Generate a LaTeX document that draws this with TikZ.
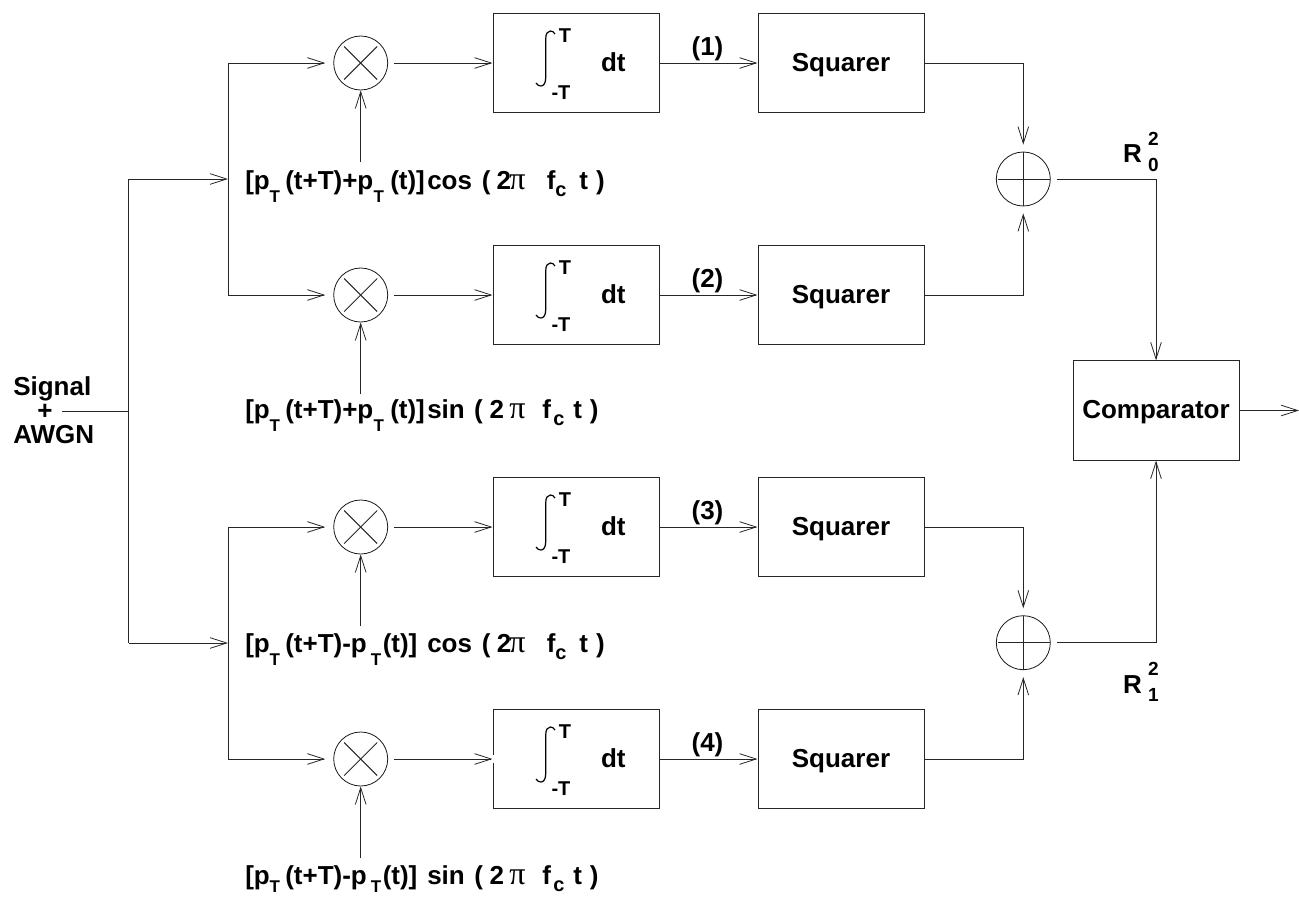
\documentclass[tikz,border=0pt]{standalone}
\usepackage{fontspec}
\setmainfont{Liberation Sans}
\newfontfamily\pifont{Liberation Serif}
\usetikzlibrary{arrows.meta}
\newdimen\px \px=0.75pt
\newcommand{\fs}[1]{\fontsize{#1\px}{#1\px}\selectfont}
\newcommand{\at}[2]{\makebox[0pt][l]{\hspace*{#1\px}#2}}
\newcommand{\sbdrop}{13.5}
\newcommand{\sbT}[1]{\at{#1}{\raisebox{-\sbdrop\px}{\fs{17}T}}}
\newcommand{\sbc}[1]{\at{#1}{\raisebox{-7.5\px}{\fs{20}c}}}
\newcommand{\mypi}{{\fs{32}\mdseries\pifont π}}
\newcommand{\cosTail}{\at{182}{cos}\at{236.5}{(}\at{251.5}{2}\at{264}{\mypi}\at{301.5}{f}\sbc{310}\at{334}{t}\at{351}{)}}
\newcommand{\sinTail}{\at{182}{sin}\at{229}{(}\at{244.3}{2}\at{264}{\mypi}\at{297}{f}\sbc{308}\at{328}{t}\at{344.5}{)}}
\newcommand{\headPlus}{\at{0}{[p}\sbT{24.3}\at{40}{(t+T)+p}\sbT{128.3}\at{145}{(t)]}}
\newcommand{\headMinus}{\at{0}{[p}\sbT{24.3}\at{40}{(t+T)-p}\sbT{125.7}\at{137.5}{(t)]}}
\tikzset{
  x=0.75pt,y=-0.75pt,
  wire/.style={line width=0.75pt,draw=black!85},
  arr/.style={wire,-{Straight Barb[length=12.5pt,width=8pt,line width=0.6pt]}},
  blockbox/.style={draw=black!85,line width=0.75pt,minimum width=166\px,minimum height=99.5\px,inner sep=0pt,
    font=\fs{26}\bfseries,text height=18\px,text depth=2\px},
  sumcirc/.style={circle,draw=black!90,line width=0.6pt,minimum size=54\px,inner sep=0pt},
  lab/.style={anchor=base west,inner sep=0pt,font=\fs{26}\bfseries},
  smalllab/.style={anchor=base,inner sep=0pt,font=\fs{20}\bfseries},
  supsub/.style={anchor=base,inner sep=0pt,font=\fs{19}\bfseries},
  bigr/.style={anchor=base,inner sep=0pt,font=\fs{26}\bfseries},
  intsign/.style={line width=0.9pt,draw=black},
}
\begin{document}
\begin{tikzpicture}
\useasboundingbox (0,0) rectangle (1299,896);
% rows
\foreach \i/\y in {1/63,2/295,3/527,4/759}{
  \node[sumcirc] (m\i) at (360.7,\y) {};
  \draw[wire] (m\i.center) +(-16.5,-16.5) -- +(16.5,16.5);
  \draw[wire] (m\i.center) +(-16.5,16.5) -- +(16.5,-16.5);
  \node[blockbox] (int\i) at (576,\y) {};
  \node[blockbox] (sq\i) at (841,\y) {Squarer};
  \draw[intsign] (555,\y-29) .. controls (554,\y-31) and (552,\y-32) .. (550.5,\y-32)
     .. controls (548,\y-32) and (545.7,\y-30) .. (545.7,\y-24) -- (545.7,\y+15)
     .. controls (545.7,\y+21) and (543,\y+23) .. (541,\y+23)
     .. controls (539,\y+23) and (537,\y+22) .. (536,\y+20);
  \node[smalllab] (ut\i) at (565,\y-21) {T};
  \node[smalllab] (lt\i) at (561,\y+36) {-T};
  \node[bigr] (dt\i) at (613.3,\y+8) {dt};
  \node[bigr] (n\i) at (707.5,\y-8) {(\i)};
  \draw[arr,shorten <=6\px] (m\i.east) -- (int\i.west);
  \draw[arr] (int\i.east) -- (sq\i.west);
}
% nick in the edge of the fourth integrator box
\draw[white,line width=1pt] (493,755) -- (493,763);
% labels
\node[lab] (l1) at (245,189) {\makebox[358\px][l]{\headPlus\cosTail}};
\node[lab] (l2) at (245,418) {\makebox[358\px][l]{\headPlus\sinTail}};
\node[lab] (l3) at (245,652) {\makebox[358\px][l]{\headMinus\cosTail}};
\renewcommand{\sbdrop}{8}
\node[lab] (l4) at (245,884) {\makebox[358\px][l]{\headMinus\sinTail}};
\foreach \i/\y in {1/162,2/394,3/626,4/858}{
  \coordinate (c\i) at (m\i|-0,\y);
  \draw[arr] (c\i) -- (m\i.south);
}
% adders
\node[sumcirc] (a1) at (1023.3,179) {};
\node[sumcirc] (a2) at (1023.3,642.7) {};
\foreach \a in {a1,a2}{
  \draw[wire] (\a.center) +(-25,0) -- +(27,0);
  \draw[wire] (\a.center) +(0,-27) -- +(0,27);
}
\node[blockbox] (cmp) at (1156,410.5) {Comparator};
% squarer to adders
\draw[arr,shorten >=7\px] (sq1.east) -| (a1.north);
\draw[arr,shorten >=7\px] (sq2.east) -| (a1.south);
\draw[arr,shorten >=7\px] (sq3.east) -| (a2.north);
\draw[arr,shorten >=7\px] (sq4.east) -| (a2.south);
% adders to comparator
\draw[arr,shorten <=6\px] (a1.east) -| (cmp.north);
\draw[arr,shorten <=6\px] (a2.east) -| (cmp.south);
\coordinate (out) at (1299,410.5);
\draw[arr] (cmp.east) -- (out);
\node[bigr] (r0) at (1132.5,162) {R};
\node[supsub] (r0a) at (1153.3,145) {2};
\node[supsub] (r0b) at (1153.3,171) {0};
\node[bigr] (r1) at (1132.5,693) {R};
\node[supsub] (r1a) at (1153.3,675.5) {2};
\node[supsub] (r1b) at (1153.3,701) {1};
% input
\node[anchor=north west,inner sep=0pt,align=left,font={\fontsize{26\px}{24\px}\selectfont\bfseries}] (s1) at (13,376)
  {Signal\\\hspace*{24\px}+\\AWGN};
\coordinate (in) at (62,411);
\coordinate (bus) at (128.7,411);
\coordinate (bt) at (128.7,179);
\coordinate (bb) at (128.7,643);
\coordinate (jt) at (228,179);
\coordinate (jb) at (228,643);
\draw[wire] (in) -- (bus);
\draw[wire] (bt) -- (bb);
\draw[arr] (bt) -- (jt);
\draw[arr] (bb) -- (jb);
\foreach \i/\j in {1/jt,2/jt,3/jb,4/jb}{
  \draw[arr,shorten >=8\px] (\j) |- (m\i.west);
}
\end{tikzpicture}
\end{document}
